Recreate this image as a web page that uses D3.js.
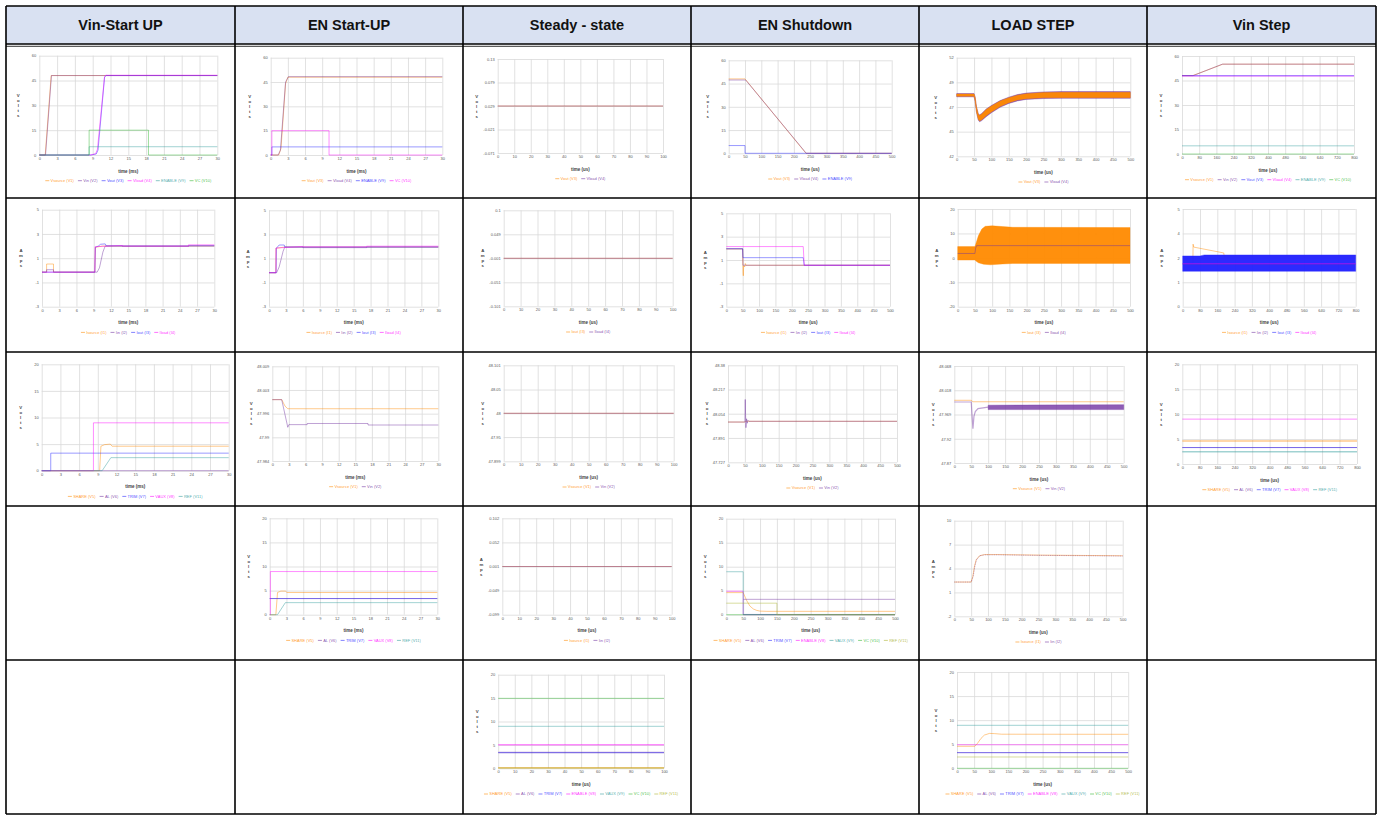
<!DOCTYPE html>
<html>
<head>
<meta charset="utf-8">
<script src="https://cdn.jsdelivr.net/npm/d3@7"></script>
<style>
  body { margin: 0; background: #fff; }
  svg text { font-family: "Liberation Sans", Arial, sans-serif; }
</style>
</head>
<body>
<div id="chart"></div>
<script>
// table layout
const W = 1384, H = 820;
const colEdges = [6, 235, 463, 691, 919, 1147, 1376];
const rowEdges = [6, 44, 198, 352, 506, 660, 814];
const headers = ["Vin-Start UP", "EN Start-UP", "Steady - state", "EN Shutdown", "LOAD STEP", "Vin Step"];

// series colours go by legend position
const palette = ["#ff8a00", "#7030a0", "#2020ff", "#ff00ff", "#2e9b9b", "#2db52d", "#a8b22a"];

// shared ticks
const msTicks = [0, 3, 6, 9, 12, 15, 18, 21, 24, 27, 30];
const us100Ticks = [0, 10, 20, 30, 40, 50, 60, 70, 80, 90, 100];
const us500Ticks = [0, 50, 100, 150, 200, 250, 300, 350, 400, 450, 500];
const us800Ticks = [0, 80, 160, 240, 320, 400, 480, 560, 640, 720, 800];
const volt60Ticks = [0, 15, 30, 45, 60];
const volt20Ticks = [0, 5, 10, 15, 20];
const amp5Ticks = [-3, -1, 1, 3, 5];

// legend names
const vNames6 = ["Vsource (V1)", "Vin (V2)", "Vout (V3)", "Vload (V4)", "ENABLE (V9)", "VC (V10)"];
const vNamesEn = ["Vout (V3)", "Vload (V4)", "ENABLE (V9)", "VC (V10)"];
const vNamesOut = ["Vout (V3)", "Vload (V4)"];
const vNamesShut = ["Vout (V3)", "Vload (V4)", "ENABLE (V9)"];
const iNames4 = ["Isource (I1)", "Iin (I2)", "Iout (I3)", "Iload (I4)"];
const iNamesOut = ["Iout (I3)", "Iload (I4)"];
const iNamesIn = ["Isource (I1)", "Iin (I2)"];
const vNamesIn = ["Vsource (V1)", "Vin (V2)"];
const auxNames5 = ["SHARE (V5)", "AL (V6)", "TRIM (V7)", "VAUX (V8)", "REF (V11)"];
const auxNames7 = ["SHARE (V5)", "AL (V6)", "TRIM (V7)", "ENABLE (V8)", "VAUX (V9)", "VC (V10)", "REF (V11)"];

// ---- row 1 : volts ----
const a1Vsource = [[0, 0], [1, 0], [2, 48], [30, 48]];
const a1Vin = [[0, 0], [1.05, 0], [2.05, 48], [30, 48]];
const a1Vout = [[0, 0], [8.7, 0], [9.6, 0.6], [9.9, 3], [11.0, 47], [11.3, 48], [30, 48]];
const a1Vload = [[0, 0], [8.6, 0], [9.5, 0.8], [9.8, 3.5], [11.0, 47.5], [11.2, 48.2], [30, 48.2]];
const a1Enable = [[0, 0], [8.4, 0], [8.4, 5], [30, 5]];
const a1Vc = [[0, 0], [8.4, 0], [8.4, 15], [18.4, 15], [18.4, 0], [30, 0]];

const b1Vout = [[0, 0], [1.4, 0], [1.8, 4], [2.6, 44], [3.0, 48], [30, 48]];
const b1Vload = [[0, 0], [1.3, 0], [1.7, 3], [2.6, 45], [3.1, 48.3], [30, 48.3]];
const b1Enable = [[0, 0], [0.2, 0], [0.2, 5], [30, 5]];
const b1Vc = [[0, 0], [0.2, 0], [0.2, 15], [10.2, 15], [10.2, 0], [30, 0]];

const c1Vout = [[0, 0.029], [100, 0.029]];
const c1Vload = [[0, 0.029], [100, 0.029]];
const c1YTicks = [-0.071, -0.021, 0.029, 0.079, 0.129];
const c1YLabels = ["-0.071", "-0.021", "0.029", "0.079", "0.13"];

const d1Vout = [[0, 48], [50, 48], [237, 0], [500, 0]];
const d1Vload = [[0, 47.3], [52, 47.3], [238, 0], [500, 0]];
const d1Enable = [[0, 5], [50, 5], [50, 0], [500, 0]];

const e1VoutHi = [[0, 48.32], [50, 48.32], [53, 48.0], [57, 47.0], [62, 46.3], [66, 46.15], [72, 46.3], [85, 46.75], [100, 47.1], [125, 47.6], [150, 47.95], [175, 48.2], [200, 48.35], [250, 48.47], [300, 48.49], [500, 48.49]];
const e1VoutLo = [[0, 48.08], [50, 48.08], [53, 47.6], [57, 46.5], [62, 45.75], [66, 45.58], [72, 45.7], [85, 46.1], [100, 46.5], [125, 47.05], [150, 47.44], [175, 47.7], [200, 47.84], [250, 47.93], [300, 47.95], [500, 47.95]];
const e1VloadHi = [[0, 48.36], [50, 48.36], [53, 48.05], [57, 47.05], [62, 46.35], [66, 46.2], [72, 46.35], [85, 46.8], [100, 47.15], [125, 47.65], [150, 48.0], [175, 48.26], [200, 48.41], [250, 48.53], [300, 48.56], [500, 48.56]];
const e1VloadLo = [[0, 48.03], [50, 48.03], [53, 47.55], [57, 46.45], [62, 45.68], [66, 45.5], [72, 45.62], [85, 46.02], [100, 46.42], [125, 46.97], [150, 47.36], [175, 47.62], [200, 47.77], [250, 47.86], [300, 47.88], [500, 47.88]];
const e1YTicks = [42, 44.5, 47, 49.5, 52];
const e1YLabels = ["42", "45", "47", "49", "52"];

const f1Vsource = [[0, 48], [50, 48], [190, 55], [800, 55]];
const f1Vin = [[0, 48], [52, 48], [188, 55], [800, 55]];
const f1Vout = [[0, 48], [800, 48]];
const f1Vload = [[0, 47.7], [800, 47.7]];
const f1Enable = [[0, 5], [800, 5]];
const f1Vc = [[0, 0], [800, 0]];

// ---- row 2 : amps ----
const a2Isource = [[0, -0.15], [0.8, -0.15], [0.8, 0.52], [2.0, 0.52], [2.0, -0.15], [9.2, -0.15], [9.3, 1.9], [10.5, 2.0], [30, 2.0]];
const a2Iin = [[0, -0.15], [0.8, -0.15], [0.8, 0.05], [2.0, 0.05], [2.0, -0.15], [9.6, -0.15], [10.0, 0.2], [10.6, 1.5], [11.0, 2.0], [14, 2.0], [14, 1.97], [25.5, 1.97], [25.5, 2.02], [30, 2.02]];
const a2Iout = [[0, -0.15], [9.2, -0.15], [9.3, 1.9], [9.8, 2.0], [10.2, 2.15], [11.0, 2.18], [11.2, 2.02], [30, 2.02]];
const a2Iload = [[0, -0.15], [9.2, -0.15], [9.25, 1.95], [14, 2.05], [14, 2.0], [25.5, 2.0], [25.5, 2.1], [30, 2.1]];

const b2Isource = [[0, -0.18], [1.2, -0.18], [1.25, 1.85], [2.8, 1.95], [30, 1.95]];
const b2Iin = [[0, -0.18], [1.35, -0.18], [1.8, 0.3], [2.5, 1.6], [2.8, 1.95], [6, 1.95], [6, 1.9], [17.3, 1.9], [17.3, 1.95], [30, 1.95]];
const b2Iout = [[0, -0.18], [1.25, -0.18], [1.3, 1.85], [1.8, 2.12], [2.7, 2.12], [2.8, 1.95], [30, 1.95]];
const b2Iload = [[0, -0.18], [1.24, -0.18], [1.24, 1.87], [6, 2.0], [6, 1.97], [17.3, 1.97], [17.3, 2.02], [30, 2.02]];

const c2Iout = [[0, -0.001], [100, -0.001]];
const c2Iload = [[0, -0.001], [100, -0.001]];
const c2YTicks = [-0.101, -0.051, -0.001, 0.049, 0.099];
const c2YLabels = ["-0.101", "-0.051", "-0.001", "0.049", "0.1"];

const d2Isource = [[0, 1.95], [50, 1.95], [51, 0.0], [52, -0.35], [53, 0.5], [56, 0.4], [58, 0.7], [60, 0.55], [500, 0.55]];
const d2Iin = [[0, 1.95], [50, 1.95], [51, 0.55], [500, 0.55]];
const d2Iout = [[0, 1.97], [50, 1.97], [51, 1.2], [235, 1.2], [238, 0.55], [500, 0.55]];
const d2Iload = [[0, 2.15], [235, 2.15], [238, 0.55], [500, 0.55]];

const e2IoutHi = [[0, 4.6], [50, 4.6], [52, 5.5], [60, 9], [70, 11.8], [80, 12.9], [100, 13.1], [130, 12.8], [160, 12.5], [500, 12.4]];
const e2IoutLo = [[0, -0.9], [50, -0.9], [52, -1.2], [60, -2.0], [75, -2.6], [95, -2.85], [130, -2.5], [160, -2.3], [500, -2.3]];
const e2Iload = [[0, 1.8], [50, 1.8], [52, 4], [55, 5], [500, 5]];
const e2YTicks = [-20, -10, 0, 10, 20];

const f2Isource = [[0, 2.2], [47, 2.2], [48, 3.2], [51, 3.05], [190, 2.75], [192, 2.55], [800, 2.55]];
const f2Iin = [[0, 2.18], [800, 2.18]];
const f2IoutHi = [[0, 2.6], [80, 2.6], [100, 2.65], [800, 2.65]];
const f2IoutLo = [[0, 1.81], [800, 1.81]];
const f2Iload = [[0, 2.2], [800, 2.2]];
const f2YTicks = [0, 1.25, 2.5, 3.75, 5];
const f2YLabels = ["0", "1", "2", "4", "5"];

// ---- row 3 ----
const a3Share = [[0, 0], [9.3, 0], [9.5, 4.6], [10.1, 4.9], [11.0, 5.0], [11.3, 4.6], [30, 4.6]];
const a3Al = [[0, 0], [30, 0]];
const a3Trim = [[0, 0], [1.45, 0], [1.45, 3.3], [30, 3.3]];
const a3Vaux = [[0, 0], [8.3, 0], [8.3, 9], [30, 9]];
const a3Ref = [[0, 0], [9.7, 0], [11.1, 2.45], [30, 2.45]];

const b3Vsource = [[0, 48.0002], [1.7, 48.0002], [2.3, 47.9985], [2.8, 47.9978], [30, 47.9978]];
const b3Vin = [[0, 48.0002], [1.7, 48.0002], [2.8, 47.9929], [3.0, 47.9936], [6.3, 47.9936], [6.3, 47.9939], [17.3, 47.9939], [17.3, 47.9935], [30, 47.9935]];
const b3YTicks = [47.984, 47.99025, 47.9965, 48.00275, 48.009];
const b3YLabels = ["47.984", "47.99", "47.996", "48.003", "48.009"];

const c3Vsource = [[0, 48], [100, 48]];
const c3Vin = [[0, 48], [100, 48]];
const c3YTicks = [47.899, 47.95, 48, 48.05, 48.101];
const c3YLabels = ["47.899", "47.95", "48", "48.05", "48.101"];

const d3Vsource = [[0, 47.998], [50, 47.998], [52, 48.003], [500, 48.003]];
const d3Vin = [[0, 47.998], [50, 47.998], [51, 48.15], [52, 48.05], [53, 47.96], [55, 48.02], [57, 47.99], [59, 48.01], [62, 48.003], [500, 48.003]];
const d3YTicks = [47.727, 47.891, 48.054, 48.217, 48.38];
const d3YLabels = ["47.727", "47.891", "48.054", "48.217", "48.38"];

const e3Vsource = [[0, 47.998], [50, 47.998], [55, 47.995], [500, 47.995]];
const e3Vin = [[0, 47.9945], [50, 47.9945], [52, 47.97], [55, 47.94], [58, 47.965], [62, 47.975], [70, 47.981], [100, 47.984]];
const e3VinHi = [[100, 47.988], [500, 47.989]];
const e3VinLo = [[100, 47.979], [500, 47.979]];
const e3YTicks = [47.87, 47.9195, 47.969, 48.0185, 48.068];
const e3YLabels = ["47.87", "47.92", "47.969", "48.018", "48.068"];

const f3Share = [[0, 4.6], [800, 4.6]];
const f3Al = [[0, 3.3], [800, 3.3]];
const f3Trim = [[0, 3.3], [800, 3.3]];
const f3Vaux = [[0, 9], [800, 9]];
const f3Ref = [[0, 2.45], [800, 2.45]];

// ---- row 4 ----
const b4Share = [[0, 0], [1.1, 0], [1.4, 4.6], [2.0, 4.9], [2.8, 4.9], [3.1, 4.6], [30, 4.6]];
const b4Al = [[0, 3.35], [30, 3.35]];
const b4Trim = [[0, 3.35], [30, 3.35]];
const b4Vaux = [[0, 0], [0.12, 0], [0.12, 8.95], [30, 8.95]];
const b4Ref = [[0, 0], [1.4, 0], [2.8, 2.5], [30, 2.5]];

const c4Isource = [[0, 0.001], [100, 0.001]];
const c4Iin = [[0, 0.001], [100, 0.001]];
const c4YTicks = [-0.099, -0.049, 0.001, 0.051, 0.101];
const c4YLabels = ["-0.099", "-0.049", "0.001", "0.052", "0.102"];

const d4Share = [[0, 4.6], [50, 4.6], [60, 3.0], [70, 1.8], [80, 1.2], [90, 0.9], [100, 0.75], [120, 0.7], [500, 0.7]];
const d4Al = [[50, 3.2], [500, 3.2]];
const d4Trim = [[50, 0.05], [500, 0.05]];
const d4Enable = [[0, 4.9], [50, 4.9], [50, 0], [500, 0]];
const d4Vaux = [[0, 8.95], [50, 8.95], [50, 0], [500, 0]];
const d4Vc = [[0, 0], [500, 0]];
const d4Ref = [[0, 2.4], [150, 2.4], [150, 0], [500, 0]];

const e4Isource = [[0, 2.3], [50, 2.3], [55, 3.0], [60, 4.3], [65, 5.1], [75, 5.6], [90, 5.75], [130, 5.75], [250, 5.68], [500, 5.6]];
const e4Iin = [[0, 2.3], [50, 2.3], [56, 3.0], [61, 4.3], [66, 5.1], [76, 5.6], [90, 5.72], [130, 5.72], [250, 5.65], [500, 5.57]];
const e4YTicks = [-2, 1, 4, 7, 10];

// ---- row 5 ----
const c5Share = [[0, 0.1], [100, 0.1]];
const c5Al = [[0, 3.35], [100, 3.35]];
const c5Trim = [[0, 3.35], [100, 3.35]];
const c5Enable = [[0, 5.05], [100, 5.05]];
const c5Vaux = [[0, 8.97], [100, 8.97]];
const c5Vc = [[0, 14.95], [100, 14.95]];
const c5Ref = [[0, 0.05], [100, 0.05]];

const e5Share = [[0, 4.57], [52, 4.57], [60, 5.2], [70, 6.2], [80, 6.9], [95, 7.25], [110, 7.2], [130, 7.08], [500, 7.06]];
const e5Al = [[0, 3.25], [500, 3.25]];
const e5Trim = [[0, 3.25], [500, 3.25]];
const e5Enable = [[0, 4.9], [500, 4.9]];
const e5Vaux = [[0, 8.93], [500, 8.93]];
const e5Vc = [[0, 0], [500, 0]];
const e5Ref = [[0, 2.35], [500, 2.35]];

// chart definitions (box = plot left, right, top, bottom in page px)
const charts = [
  { box: [39.3, 217.3, 55.7, 155], xT: msTicks, xTitle: "time (ms)", yT: volt60Ticks, yTitle: "Volts", names: vNames6,
    series: [{ d: a1Vsource, c: 0 }, { d: a1Vin, c: 1 }, { d: a1Vout, c: 2 }, { d: a1Vload, c: 3 }, { d: a1Enable, c: 4 }, { d: a1Vc, c: 5 }] },
  { box: [270.7, 442.3, 57.7, 155], xT: msTicks, xTitle: "time (ms)", yT: volt60Ticks, yTitle: "Volts", names: vNamesEn,
    series: [{ d: b1Vout, c: 0 }, { d: b1Vload, c: 1 }, { d: b1Enable, c: 2 }, { d: b1Vc, c: 3 }] },
  { box: [497.7, 663, 59, 153], xT: us100Ticks, xTitle: "time (us)", yT: c1YTicks, yL: c1YLabels, yTitle: "Volts", names: vNamesOut,
    series: [{ d: c1Vout, c: 0 }, { d: c1Vload, c: 1 }] },
  { box: [728.7, 891.7, 60.3, 153.3], xT: us500Ticks, xTitle: "time (us)", yT: volt60Ticks, yTitle: "Volts", names: vNamesShut,
    series: [{ d: d1Vout, c: 0 }, { d: d1Vload, c: 1 }, { d: d1Enable, c: 2 }] },
  { box: [956.7, 1130.3, 57.7, 156.3], xT: us500Ticks, xTitle: "time (us)", yT: e1YTicks, yL: e1YLabels, yTitle: "Volts", names: vNamesOut,
    series: [{ hi: e1VloadHi, lo: e1VloadLo, c: 1, op: 0.8 }, { hi: e1VoutHi, lo: e1VoutLo, c: 0, op: 0.95 }] },
  { box: [1182, 1354, 56, 154], xT: us800Ticks, xTitle: "time (us)", yT: volt60Ticks, yTitle: "Volts", names: vNames6,
    series: [{ d: f1Vsource, c: 0 }, { d: f1Vin, c: 1 }, { d: f1Vout, c: 2, w: 1.4 }, { d: f1Vload, c: 3 }, { d: f1Enable, c: 4 }, { d: f1Vc, c: 5 }] },

  { box: [42, 214.3, 209.7, 306.7], xT: msTicks, xTitle: "time (ms)", yT: amp5Ticks, yTitle: "Amps", names: iNames4,
    series: [{ d: a2Isource, c: 0 }, { d: a2Iin, c: 1 }, { d: a2Iout, c: 2 }, { d: a2Iload, c: 3 }] },
  { box: [269, 438.3, 210.3, 306.7], xT: msTicks, xTitle: "time (ms)", yT: amp5Ticks, yTitle: "Amps", names: iNames4,
    series: [{ d: b2Isource, c: 0 }, { d: b2Iin, c: 1 }, { d: b2Iout, c: 2 }, { d: b2Iload, c: 3 }] },
  { box: [503.7, 672.7, 210.3, 306.3], xT: us100Ticks, xTitle: "time (us)", yT: c2YTicks, yL: c2YLabels, yTitle: "Amps", names: iNamesOut,
    series: [{ d: c2Iout, c: 0 }, { d: c2Iload, c: 1 }] },
  { box: [726.3, 890, 213.3, 306.7], xT: us500Ticks, xTitle: "time (us)", yT: amp5Ticks, yTitle: "Amps", names: iNames4,
    series: [{ d: d2Isource, c: 0 }, { d: d2Iin, c: 1 }, { d: d2Iout, c: 2 }, { d: d2Iload, c: 3 }] },
  { box: [957.7, 1130, 209, 306.7], xT: us500Ticks, xTitle: "time (us)", yT: e2YTicks, yTitle: "Amps", names: iNamesOut,
    series: [{ hi: e2IoutHi, lo: e2IoutLo, c: 0, op: 0.95 }, { d: e2Iload, c: 1 }] },
  { box: [1182.7, 1355.7, 209, 306.7], xT: us800Ticks, xTitle: "time (us)", yT: f2YTicks, yL: f2YLabels, yTitle: "Amps", names: iNames4,
    series: [{ d: f2Isource, c: 0 }, { hi: f2IoutHi, lo: f2IoutLo, c: 2, op: 0.95 }, { d: f2Iin, c: 1 }, { d: f2Iload, c: 3 }] },

  { box: [41.7, 228.7, 364.3, 470.7], xT: msTicks, xTitle: "time (ms)", yT: volt20Ticks, yTitle: "Volts", names: auxNames5,
    series: [{ d: a3Share, c: 0 }, { d: a3Al, c: 1 }, { d: a3Trim, c: 2 }, { d: a3Vaux, c: 3 }, { d: a3Ref, c: 4 }] },
  { box: [272.3, 438.3, 366.3, 461], xT: msTicks, xTitle: "time (ms)", yT: b3YTicks, yL: b3YLabels, yTitle: "Volts", names: vNamesIn,
    series: [{ d: b3Vsource, c: 0 }, { d: b3Vin, c: 1 }] },
  { box: [503.7, 673.7, 365.3, 461.3], xT: us100Ticks, xTitle: "time (us)", yT: c3YTicks, yL: c3YLabels, yTitle: "Volts", names: vNamesIn,
    series: [{ d: c3Vsource, c: 0 }, { d: c3Vin, c: 1 }] },
  { box: [728, 897, 365.3, 462.3], xT: us500Ticks, xTitle: "time (us)", yT: d3YTicks, yL: d3YLabels, yTitle: "Volts", names: vNamesIn,
    series: [{ d: d3Vsource, c: 0 }, { d: d3Vin, c: 1 }] },
  { box: [954.3, 1123.7, 366, 463], xT: us500Ticks, xTitle: "time (us)", yT: e3YTicks, yL: e3YLabels, yTitle: "Volts", names: vNamesIn,
    series: [{ d: e3Vsource, c: 0 }, { d: e3Vin, c: 1, w: 1.2 }, { hi: e3VinHi, lo: e3VinLo, c: 1, op: 0.78 }] },
  { box: [1182.3, 1357, 364.3, 464], xT: us800Ticks, xTitle: "time (us)", yT: volt20Ticks, yTitle: "Volts", names: auxNames5,
    series: [{ d: f3Share, c: 0, w: 1.6 }, { d: f3Al, c: 1 }, { d: f3Trim, c: 2 }, { d: f3Vaux, c: 3 }, { d: f3Ref, c: 4, w: 1.6 }] },

  { box: [269.7, 437.3, 518.3, 614.7], xT: msTicks, xTitle: "time (ms)", yT: volt20Ticks, yTitle: "Volts", names: auxNames5,
    series: [{ d: b4Share, c: 0 }, { d: b4Al, c: 1 }, { d: b4Trim, c: 2 }, { d: b4Vaux, c: 3 }, { d: b4Ref, c: 4 }] },
  { box: [502.3, 671.7, 518.3, 614.7], xT: us100Ticks, xTitle: "time (us)", yT: c4YTicks, yL: c4YLabels, yTitle: "Amps", names: iNamesIn,
    series: [{ d: c4Isource, c: 0 }, { d: c4Iin, c: 1 }] },
  { box: [726.3, 895, 518.7, 614.7], xT: us500Ticks, xTitle: "time (us)", yT: volt20Ticks, yTitle: "Volts", names: auxNames7,
    series: [{ d: d4Share, c: 0 }, { d: d4Al, c: 1 }, { d: d4Trim, c: 2 }, { d: d4Enable, c: 3 }, { d: d4Vaux, c: 4 }, { d: d4Vc, c: 5 }, { d: d4Ref, c: 6 }] },
  { box: [954.3, 1122.7, 520.7, 616.3], xT: us500Ticks, xTitle: "time (us)", yT: e4YTicks, yTitle: "Amps", names: iNamesIn,
    series: [{ d: e4Isource, c: 0 }, { d: e4Iin, c: 1, dash: "1,0.8" }] },

  { box: [498.2, 664, 674.7, 768.3], xT: us100Ticks, xTitle: "time (us)", yT: volt20Ticks, yTitle: "Volts", names: auxNames7,
    series: [{ d: c5Share, c: 0, w: 1.5 }, { d: c5Al, c: 1, w: 1.5 }, { d: c5Trim, c: 2 }, { d: c5Enable, c: 3, w: 1.5 }, { d: c5Vaux, c: 4 }, { d: c5Vc, c: 5 }, { d: c5Ref, c: 6, w: 1.5 }] },
  { box: [957, 1128.2, 672, 768.3], xT: us500Ticks, xTitle: "time (us)", yT: volt20Ticks, yTitle: "Volts", names: auxNames7,
    series: [{ d: e5Share, c: 0 }, { d: e5Al, c: 1 }, { d: e5Trim, c: 2 }, { d: e5Enable, c: 3 }, { d: e5Vaux, c: 4 }, { d: e5Vc, c: 5 }, { d: e5Ref, c: 6 }] }
];

const svg = d3.select("#chart").append("svg")
    .attr("width", W)
    .attr("height", H);

// header row
const [tx0, tx1] = [colEdges[0], colEdges[colEdges.length - 1]];
svg.append("rect")
    .attr("x", tx0).attr("y", rowEdges[0])
    .attr("width", tx1 - tx0).attr("height", rowEdges[1] - rowEdges[0])
    .attr("fill", "#d9e1f2");

svg.selectAll(".hdr")
  .data(headers)
  .join("text")
    .attr("x", (d, i) => (colEdges[i] + colEdges[i + 1]) / 2)
    .attr("y", (rowEdges[0] + rowEdges[1]) / 2 + 5)
    .attr("text-anchor", "middle")
    .attr("font-size", 14.5)
    .attr("font-weight", "bold")
    .attr("fill", "#111")
    .text(d => d);

function drawChart(c) {
  const [l, r, t, b] = c.box;
  const x = d3.scaleLinear().domain(d3.extent(c.xT)).range([l, r]);
  const y = d3.scaleLinear().domain(d3.extent(c.yT)).range([b, t]);
  const g = svg.append("g");

  // grid
  g.append("g")
      .attr("transform", "translate(0," + b + ")")
      .call(d3.axisBottom(x).tickValues(c.xT).tickSize(-(b - t)).tickFormat(""))
      .call(s => s.select(".domain").remove())
      .selectAll("line").attr("stroke", "#d9d9d9").attr("stroke-width", 0.8);
  g.append("g")
      .attr("transform", "translate(" + l + ",0)")
      .call(d3.axisLeft(y).tickValues(c.yT).tickSize(-(r - l)).tickFormat(""))
      .call(s => s.select(".domain").remove())
      .selectAll("line").attr("stroke", "#d9d9d9").attr("stroke-width", 0.8);

  // tick labels
  g.append("g")
      .attr("transform", "translate(0," + b + ")")
      .call(d3.axisBottom(x).tickValues(c.xT).tickSize(0).tickPadding(2.3))
      .attr("font-size", 4).attr("font-family", "Liberation Sans, Arial, sans-serif")
      .call(s => s.select(".domain").remove())
      .selectAll("text").attr("fill", "#595959");
  g.append("g")
      .attr("transform", "translate(" + l + ",0)")
      .call(d3.axisLeft(y).tickValues(c.yT).tickSize(0).tickPadding(3)
        .tickFormat((d, i) => c.yL ? c.yL[i] : String(d)))
      .attr("font-size", 4).attr("font-family", "Liberation Sans, Arial, sans-serif")
      .call(s => s.select(".domain").remove())
      .selectAll("text").attr("fill", "#595959");

  // series
  const line = d3.line().x(d => x(d[0])).y(d => y(d[1]));
  c.series.forEach(s => {
    if (s.hi) {
      g.append("path")
          .attr("d", line(s.hi.concat(s.lo.slice().reverse())) + "Z")
          .attr("fill", palette[s.c])
          .attr("fill-opacity", s.op)
          .attr("stroke", palette[s.c])
          .attr("stroke-opacity", 0.6)
          .attr("stroke-width", 0.6);
    } else {
      g.append("path")
          .attr("d", line(s.d))
          .attr("fill", "none")
          .attr("stroke", palette[s.c])
          .attr("stroke-opacity", 0.45)
          .attr("stroke-width", s.w || 1)
          .attr("stroke-dasharray", s.dash || null);
    }
  });

  // axis titles
  g.append("text")
      .attr("x", (l + r) / 2)
      .attr("y", b + 17.5)
      .attr("text-anchor", "middle")
      .attr("font-size", 4.5)
      .attr("font-weight", "bold")
      .attr("fill", "#404040")
      .text(c.xTitle);

  const letters = c.yTitle.split("");
  const y0 = (t + b) / 2 - (letters.length - 1) * 5 / 2;
  g.append("text")
      .attr("text-anchor", "middle")
      .attr("font-size", 4.3)
      .attr("font-weight", "bold")
    .selectAll("tspan")
    .data(letters)
    .join("tspan")
      .attr("x", l - 21)
      .attr("y", (d, i) => y0 + i * 5 + 1.5)
      .attr("fill", "#404040")
      .text(d => d);

  // legend
  const lg = g.append("g");
  let cx = 0;
  c.names.forEach((name, i) => {
    lg.append("line")
        .attr("x1", cx).attr("x2", cx + 4)
        .attr("y1", 0).attr("y2", 0)
        .attr("stroke", palette[i]).attr("stroke-opacity", 0.7).attr("stroke-width", 0.8);
    const tx = lg.append("text")
        .attr("x", cx + 5.3)
        .attr("y", 1.4)
        .attr("font-size", 4)
        .attr("fill", palette[i])
        .attr("fill-opacity", 0.85)
        .text(name);
    cx += 5.3 + tx.node().getComputedTextLength() + 4;
  });
  lg.attr("transform", "translate(" + ((l + r) / 2 - (cx - 4) / 2) + "," + (b + 25.7) + ")");
}

charts.forEach(drawChart);

// table borders
svg.selectAll(".vb")
  .data(colEdges)
  .join("line")
    .attr("x1", d => d).attr("x2", d => d)
    .attr("y1", rowEdges[0]).attr("y2", rowEdges[rowEdges.length - 1])
    .attr("stroke", "#000").attr("stroke-width", 1.6);
svg.selectAll(".hb")
  .data(rowEdges)
  .join("line")
    .attr("x1", tx0).attr("x2", tx1)
    .attr("y1", d => d).attr("y2", d => d)
    .attr("stroke", "#000").attr("stroke-width", 1.6);
// double rule under the header
svg.append("line")
    .attr("x1", tx0).attr("x2", tx1)
    .attr("y1", rowEdges[1] + 2.3).attr("y2", rowEdges[1] + 2.3)
    .attr("stroke", "#000").attr("stroke-width", 0.8);
</script>
</body>
</html>
